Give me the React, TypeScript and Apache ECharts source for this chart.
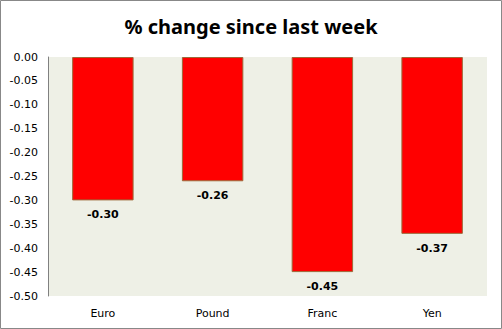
import React, { useEffect, useRef } from "react";
import * as echarts from "echarts";

const categories = ["Euro", "Pound", "Franc", "Yen"];
const values = [-0.3, -0.26, -0.45, -0.37];
const titleText = "% change since last week";

export default function App() {
  const ref = useRef<HTMLDivElement>(null);
  useEffect(() => {
    document.body.style.margin = "0";
    const chart = echarts.init(ref.current!, null, { renderer: "svg" });
    chart.setOption({
      animation: false,
      backgroundColor: "#ffffff",
      title: {
        text: titleText,
        left: "center",
        top: 11,
        textStyle: { fontFamily: "Noto Sans", fontWeight: "bold", fontSize: 20, color: "#000" },
      },
      grid: {
        left: 48,
        top: 57,
        right: 15,
        bottom: 33,
        show: true,
        backgroundColor: "#EEF0E6",
        borderWidth: 0,
      },
      xAxis: {
        type: "category",
        data: categories,
        position: "bottom",
        axisLine: { show: false },
        axisTick: { show: false },
        axisLabel: { fontFamily: "DejaVu Sans", fontSize: 11, color: "#000", margin: 12 },
      },
      yAxis: {
        type: "value",
        min: -0.5,
        max: 0,
        interval: 0.05,
        axisLine: { show: true, lineStyle: { color: "#808080" } },
        axisTick: { show: false },
        splitLine: { show: false },
        axisLabel: {
          fontFamily: "DejaVu Sans",
          fontSize: 11,
          color: "#000",
          margin: 10,
          formatter: (v: number) => v.toFixed(2),
        },
      },
      series: [
        {
          type: "bar",
          data: values,
          barWidth: "56%",
          itemStyle: { color: "#FF0000", borderColor: "#9C6A3A", borderWidth: 1 },
          label: {
            show: true,
            position: "bottom",
            distance: 9,
            fontFamily: "DejaVu Sans",
            fontWeight: "bold",
            fontSize: 11,
            color: "#000",
            formatter: (p: any) => Number(p.value).toFixed(2),
          },
        },
      ],
      graphic: [
        {
          type: "rect",
          shape: { x: 0.5, y: 0.5, width: 501, height: 328 },
          style: { fill: "none", stroke: "#888888", lineWidth: 1 },
          silent: true,
        },
      ],
    });
    return () => chart.dispose();
  }, []);
  return <div ref={ref} style={{ position: "absolute", left: 0, top: 0, width: 502, height: 329 }} />;
}
